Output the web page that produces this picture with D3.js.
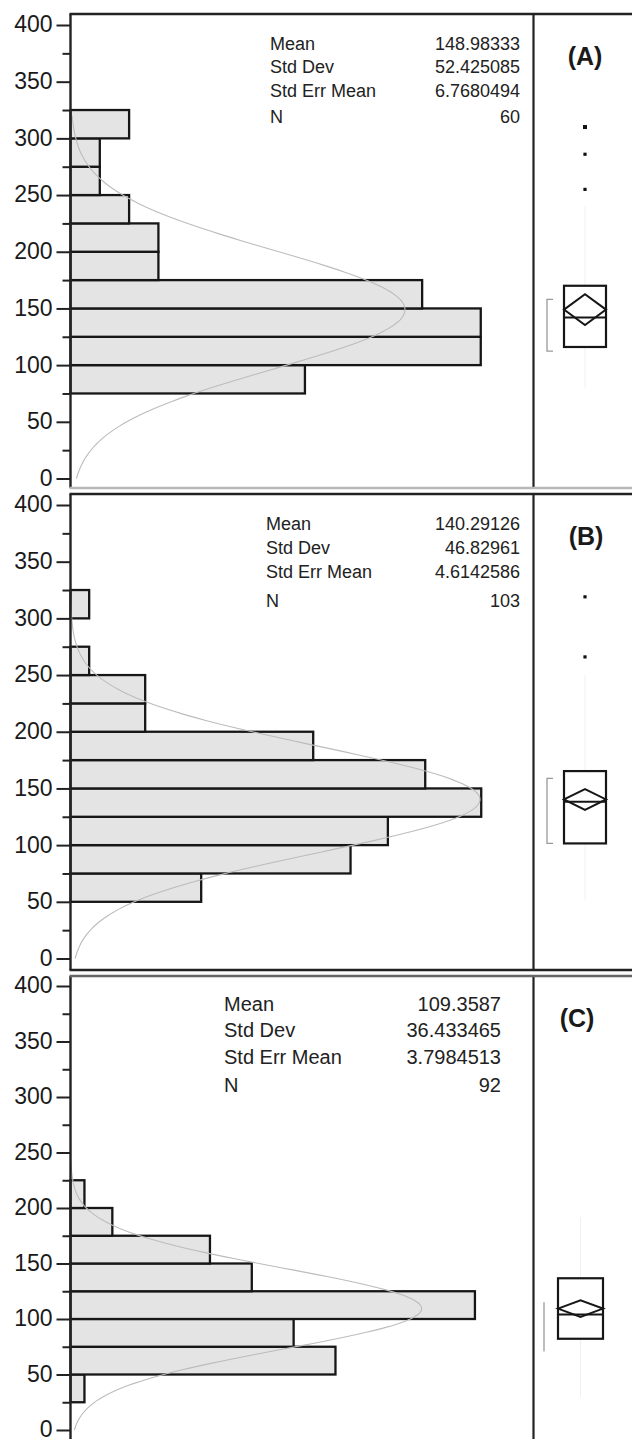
<!DOCTYPE html>
<html>
<head>
<meta charset="utf-8">
<script src="https://cdn.jsdelivr.net/npm/d3@7"></script>
<style>
  body { margin:0; background:#fff; }
  svg { display:block; font-family:"Liberation Sans", Arial, sans-serif; }
</style>
</head>
<body>
<div id="chart"></div>
<script>
// histogram bins (lower edge, width 25)
const binStarts = [25, 50, 75, 100, 125, 150, 175, 200, 225, 250, 275, 300]
const countsA = [0, 0, 8, 14, 14, 12, 3, 3, 2, 1, 1, 2]
const countsB = [0, 7, 15, 17, 22, 19, 13, 4, 4, 1, 0, 1]
const countsC = [1, 19, 16, 29, 13, 10, 3, 1, 0, 0, 0, 0]

const panelNames = ["(A)", "(B)", "(C)"]
const statLabels = ["Mean", "Std Dev", "Std Err Mean", "N"]
const means = [148.98333, 140.29126, 109.3587]
const stdDevs = [52.425085, 46.82961, 36.433465]
const stdErrs = [6.7680494, 4.6142586, 3.7984513]
const ns = [60, 103, 92]
const statTextA = ["148.98333", "52.425085", "6.7680494", "60"]
const statTextB = ["140.29126", "46.82961", "4.6142586", "103"]
const statTextC = ["109.3587", "36.433465", "3.7984513", "92"]

// box plot values
const q1 = [116, 101.5, 82.2]
const medians = [142, 138.2, 104]
const q3 = [170, 165.3, 136.7]
const ciLow = [135.4, 131.1, 101.8]
const ciHigh = [162.5, 149.4, 116.9]
const shortHalfLow = [112.4, 101.5, 70.8]
const shortHalfHigh = [158, 158.9, 115]
const whiskLow = [80, 52, 30]
const whiskHigh = [240, 250, 192]
const outliersA = [310, 286, 255]
const outliersB = [319, 266]
const outliersC = []

const yTicks = [0, 50, 100, 150, 200, 250, 300, 350, 400]
const yMinorTicks = [25, 75, 125, 175, 225, 275, 325, 375]
const countMax = [15.8, 24.8, 33.2]

const W = 632, H = 1439
const axisX = 70.5, divX = 533.5
const layout = [
  {top:14, bottom:488, y400:25, y0:478.5, topCol:"#222", botCol:"#b8b8b8",
   sx:270, vx:520, sy:36, sdy:23.4, nGap:3, fs:18, lx:585, bx0:564, bx1:606, brX:547, serif:true},
  {top:494, bottom:970, y400:505, y0:958.5, topCol:"#222", botCol:"#222",
   sx:266, vx:520, sy:35.5, sdy:24, nGap:5, fs:18, lx:586, bx0:564, bx1:606, brX:547, serif:true},
  {top:976, bottom:1460, y400:986, y0:1430, topCol:"#666", botCol:"#222",
   sx:224, vx:501, sy:34.5, sdy:26.7, nGap:1.5, fs:20, lx:577, bx0:558, bx1:603, brX:544, serif:false}
]

const counts = [countsA, countsB, countsC]
const statTexts = [statTextA, statTextB, statTextC]
const outliers = [outliersA, outliersB, outliersC]

const svg = d3.select("#chart").append("svg").attr("width", W).attr("height", H)
svg.append("rect").attr("width", W).attr("height", H).attr("fill", "#fff")

layout.forEach((p, i) => {
  const g = svg.append("g")
  const y = d3.scaleLinear().domain([0, 400]).range([p.y0, p.y400])
  const x = d3.scaleLinear().domain([0, countMax[i]]).range([axisX, divX])

  // bars
  const bins = binStarts.map((b, k) => ({lo:b, hi:b + 25, n:counts[i][k]})).filter(d => d.n > 0)
  g.selectAll("rect.bar").data(bins).enter().append("rect")
    .attr("class", "bar")
    .attr("x", x(0))
    .attr("y", d => y(d.hi))
    .attr("width", d => x(d.n) - x(0))
    .attr("height", d => y(d.lo) - y(d.hi))
    .attr("fill", "#e4e4e4")
    .attr("stroke", "#161616")
    .attr("stroke-width", 2.3)

  // fitted normal curve
  const pdf = v => ns[i] * 25 / (stdDevs[i] * Math.sqrt(2 * Math.PI)) * Math.exp(-0.5 * ((v - means[i]) / stdDevs[i]) ** 2)
  const vs = d3.range(0, 321, 2)
  g.append("path")
    .datum(vs)
    .attr("fill", "none")
    .attr("stroke", "#bcbcbc")
    .attr("stroke-width", 1.1)
    .attr("d", d3.line().x(v => x(pdf(v))).y(v => y(v)))

  // y axis ticks
  const major = g.append("g").attr("transform", `translate(${axisX},0)`)
    .call(d3.axisLeft(y).tickValues(yTicks).tickSize(14).tickPadding(4).tickSizeOuter(0))
  major.select(".domain").remove()
  major.selectAll("line").attr("stroke", "#222").attr("stroke-width", 2)
  major.selectAll("text").attr("font-size", 23).attr("fill", "#1a1a1a").attr("dy", "0.3em")
    .attr("font-family", "'Liberation Sans', Arial, sans-serif")
  const minor = g.append("g").attr("transform", `translate(${axisX},0)`)
    .call(d3.axisLeft(y).tickValues(yMinorTicks).tickSize(8).tickFormat("").tickSizeOuter(0))
  minor.select(".domain").remove()
  minor.selectAll("line").attr("stroke", "#222").attr("stroke-width", 2)

  // frame
  g.append("line").attr("x1", axisX).attr("x2", axisX).attr("y1", p.top).attr("y2", p.bottom)
    .attr("stroke", "#222").attr("stroke-width", 2.4)
  g.append("line").attr("x1", divX).attr("x2", divX).attr("y1", p.top).attr("y2", p.bottom)
    .attr("stroke", "#222").attr("stroke-width", 2.2)
  g.append("line").attr("x1", axisX - 1).attr("x2", W).attr("y1", p.top).attr("y2", p.top)
    .attr("stroke", p.topCol).attr("stroke-width", 2.4)
  g.append("line").attr("x1", axisX - 1).attr("x2", W).attr("y1", p.bottom).attr("y2", p.bottom)
    .attr("stroke", p.botCol).attr("stroke-width", 2.4)

  // summary statistics
  statLabels.forEach((lab, k) => {
    let ty = p.top + p.sy + k * p.sdy + (k == 3 ? p.nGap : 0)
    g.append("text").attr("x", p.sx).attr("y", ty).text(lab)
      .attr("font-size", p.fs).attr("fill", "#222")
    g.append("text").attr("x", p.vx).attr("y", ty).text(statTexts[i][k])
      .attr("font-size", p.fs).attr("fill", "#222").attr("text-anchor", "end")
  })

  g.append("text").attr("x", p.lx).attr("y", p.top + 51).text(panelNames[i])
    .attr("font-size", 25).attr("font-weight", "bold").attr("fill", "#1a1a1a")
    .attr("text-anchor", "middle")

  // outlier box plot
  const cx = (p.bx0 + p.bx1) / 2
  g.append("line").attr("x1", cx).attr("x2", cx).attr("y1", y(q3[i])).attr("y2", y(whiskHigh[i]))
    .attr("stroke", "#f0f0f0").attr("stroke-width", 1)
  g.append("line").attr("x1", cx).attr("x2", cx).attr("y1", y(q1[i])).attr("y2", y(whiskLow[i]))
    .attr("stroke", "#f0f0f0").attr("stroke-width", 1)

  let br = d3.path()
  if (p.serif) {
    br.moveTo(p.brX + 6, y(shortHalfHigh[i]))
    br.lineTo(p.brX, y(shortHalfHigh[i]))
    br.lineTo(p.brX, y(shortHalfLow[i]))
    br.lineTo(p.brX + 6, y(shortHalfLow[i]))
  } else {
    br.moveTo(p.brX, y(shortHalfHigh[i]))
    br.lineTo(p.brX, y(shortHalfLow[i]))
  }
  g.append("path").attr("d", br.toString()).attr("fill", "none")
    .attr("stroke", "#999").attr("stroke-width", 1.3)

  g.append("rect").attr("x", p.bx0).attr("y", y(q3[i]))
    .attr("width", p.bx1 - p.bx0).attr("height", y(q1[i]) - y(q3[i]))
    .attr("fill", "none").attr("stroke", "#161616").attr("stroke-width", 2.2)
  g.append("line").attr("x1", p.bx0).attr("x2", p.bx1).attr("y1", y(medians[i])).attr("y2", y(medians[i]))
    .attr("stroke", "#161616").attr("stroke-width", 2)
  const dia = [[p.bx0, y(means[i])], [cx, y(ciHigh[i])], [p.bx1, y(means[i])], [cx, y(ciLow[i])]]
  g.append("path").attr("d", d3.line()(dia) + "Z")
    .attr("fill", "none").attr("stroke", "#161616").attr("stroke-width", 2)

  g.selectAll("rect.out").data(outliers[i]).enter().append("rect")
    .attr("class", "out")
    .attr("x", (d, k) => cx - (k == 0 && i == 0 ? 2 : 1.6)).attr("y", (d, k) => y(d) - (k == 0 && i == 0 ? 2 : 1.6))
    .attr("width", (d, k) => k == 0 && i == 0 ? 4 : 3.2).attr("height", (d, k) => k == 0 && i == 0 ? 4 : 3.2)
    .attr("fill", "#111")
})
</script>
</body>
</html>
